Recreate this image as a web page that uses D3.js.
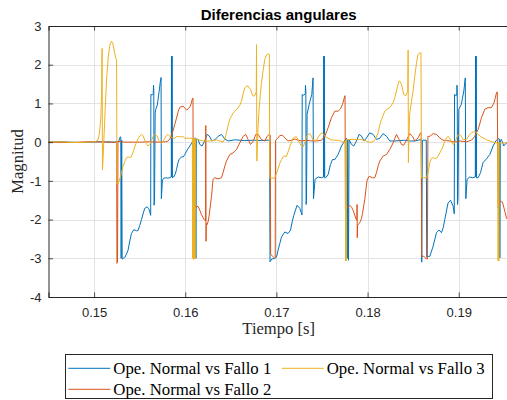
<!DOCTYPE html>
<html>
<head>
<meta charset="utf-8">
<script src="https://cdn.jsdelivr.net/npm/d3@7"></script>
<style>
  html, body { margin: 0; padding: 0; background: #ffffff; }
  svg { display: block; }
</style>
</head>
<body>
<svg id="chart" width="507" height="400"></svg>
<script>
// Labels and ticks
const titleText = "Diferencias angulares";
const xLabelText = "Tiempo [s]";
const yLabelText = "Magnitud";
const xTickValues = [0.15, 0.16, 0.17, 0.18, 0.19];
const xTickLabels = ["0.15", "0.16", "0.17", "0.18", "0.19"];
const yTickValues = [-4, -3, -2, -1, 0, 1, 2, 3];
const yTickLabels = ["-4", "-3", "-2", "-1", "0", "1", "2", "3"];
const xLimits = [0.145, 0.1955];
const yLimits = [-4, 3];

// Series names (plot order: Fallo 1, Fallo 2, Fallo 3)
const seriesNames = ["Ope. Normal vs Fallo 1", "Ope. Normal vs Fallo 2", "Ope. Normal vs Fallo 3"];

// Ope. Normal vs Fallo 1 : [time (s), difference]
const fallo1 = [[0.14492,0],[0.14624,0.01],[0.14843,-0.01],[0.15063,0.01],[0.15227,0],[0.15271,0.02],[0.15287,0.14],[0.15293,0.13],[0.15297,-3.0],[0.15303,0.05],[0.15308,-3.02],[0.15320,-3.0],[0.15337,-2.98],[0.15353,-2.9],[0.15373,-2.79],[0.15392,-2.55],[0.15410,-2.36],[0.15436,-2.26],[0.15465,-2.29],[0.15483,-2.28],[0.15501,-2.15],[0.15520,-2.0],[0.15540,-1.83],[0.15556,-1.71],[0.15581,-1.67],[0.15600,-1.72],[0.15611,-1.8],[0.15621,-1.89],[0.15623,1.23],[0.15641,1.22],[0.15649,1.25],[0.15652,1.47],[0.15655,1.35],[0.15658,-1.63],[0.15663,-1.5],[0.15670,0.75],[0.15677,0.85],[0.15693,0.95],[0.15713,1.3],[0.15726,1.55],[0.15735,1.67],[0.15738,-1.46],[0.15750,-0.98],[0.15765,-0.93],[0.15787,-0.92],[0.15808,-0.93],[0.15830,-0.92],[0.15847,-0.9],[0.15849,2.22],[0.15852,-0.9],[0.15856,2.22],[0.15859,-0.92],[0.15874,-0.9],[0.15891,-0.82],[0.15904,-0.71],[0.15918,-0.55],[0.15932,-0.45],[0.15959,-0.38],[0.15979,-0.38],[0.15995,-0.32],[0.16022,-0.2],[0.16050,-0.1],[0.16086,0.03],[0.16105,0.11],[0.16113,0.1],[0.16117,-3.0],[0.16121,0.08],[0.16141,0.07],[0.16160,-0.06],[0.16185,-0.1],[0.16214,0.03],[0.16240,0.2],[0.16264,0.16],[0.16294,0.03],[0.16324,0.06],[0.16360,0.15],[0.16398,0.2],[0.16434,0.08],[0.16470,0.03],[0.16544,0.06],[0.16653,0.04],[0.16763,0.05],[0.16840,0.04],[0.16909,0.05],[0.16925,0.05],[0.16930,-3.09],[0.16949,-3.02],[0.16982,-3.0],[0.17001,-2.97],[0.17019,-2.79],[0.17037,-2.62],[0.17056,-2.45],[0.17092,-2.32],[0.17128,-2.36],[0.17155,-2.27],[0.17174,-2.05],[0.17191,-1.89],[0.17227,-1.63],[0.17257,-1.71],[0.17281,-1.88],[0.17283,1.23],[0.17300,1.21],[0.17317,1.25],[0.17319,1.47],[0.17323,1.3],[0.17326,-1.61],[0.17330,-1.5],[0.17337,0.72],[0.17359,0.97],[0.17388,1.23],[0.17402,1.66],[0.17407,-1.46],[0.17424,-0.96],[0.17457,-0.9],[0.17495,-0.92],[0.17517,-0.9],[0.17520,2.22],[0.17523,-0.9],[0.17526,2.22],[0.17530,-0.92],[0.17542,-0.92],[0.17567,-0.84],[0.17593,-0.58],[0.17615,-0.45],[0.17641,-0.45],[0.17677,-0.32],[0.17714,-0.1],[0.17739,0.0],[0.17767,0.1],[0.17772,0.08],[0.17777,-3.0],[0.17782,0.05],[0.17791,-3.05],[0.17797,0.07],[0.17824,-0.06],[0.17849,-0.1],[0.17879,0.03],[0.17907,0.2],[0.17933,0.16],[0.17962,0.03],[0.17988,0.11],[0.18024,0.24],[0.18061,0.2],[0.18098,0.07],[0.18134,0.1],[0.18170,0.22],[0.18208,0.15],[0.18244,0.03],[0.18299,0.03],[0.18354,0.04],[0.18408,0.05],[0.18463,0.03],[0.18518,0.03],[0.18573,0.06],[0.18589,0.06],[0.18594,-3.1],[0.18601,0.05],[0.18644,0.05],[0.18649,-2.97],[0.18661,-2.95],[0.18683,-2.95],[0.18719,-2.69],[0.18756,-2.34],[0.18785,-2.27],[0.18811,-2.34],[0.18831,-2.2],[0.18847,-2.0],[0.18883,-1.57],[0.18910,-1.5],[0.18938,-1.65],[0.18951,-1.85],[0.18954,1.23],[0.18973,1.2],[0.18979,1.25],[0.18981,1.47],[0.18984,1.3],[0.18987,-1.61],[0.18992,-1.45],[0.19001,0.85],[0.19028,0.97],[0.19056,1.32],[0.19072,1.66],[0.19078,-1.46],[0.19092,-0.96],[0.19121,-0.9],[0.19154,-0.92],[0.19182,-0.9],[0.19185,2.22],[0.19188,-0.9],[0.19192,2.22],[0.19195,-0.92],[0.19213,-0.92],[0.19239,-0.79],[0.19267,-0.53],[0.19305,-0.43],[0.19341,-0.32],[0.19377,-0.1],[0.19407,0.03],[0.19432,0.09],[0.19446,0.08],[0.19451,-2.99],[0.19456,0.05],[0.19469,0.07],[0.19494,-0.1],[0.19524,-0.02],[0.19560,0.05]];

// Ope. Normal vs Fallo 2 : [time (s), difference]
const fallo2 = [[0.14492,0],[0.14733,-0.01],[0.14953,0.01],[0.15172,0],[0.15247,0],[0.15251,-3.13],[0.15257,-3.1],[0.15262,0.02],[0.15337,0],[0.15501,0],[0.15611,0.01],[0.15721,0],[0.15787,0.01],[0.15812,0.03],[0.15836,0.1],[0.15867,0.3],[0.15904,0.62],[0.15924,0.8],[0.15940,0.9],[0.15976,0.93],[0.15995,0.88],[0.16014,0.83],[0.16033,0.86],[0.16050,0.91],[0.16066,1.0],[0.16079,1.13],[0.16085,1.14],[0.16088,-1.9],[0.16097,-1.75],[0.16123,-1.67],[0.16141,-1.66],[0.16160,-1.76],[0.16178,-1.87],[0.16196,-1.95],[0.16214,-2.02],[0.16223,-2.03],[0.16225,0.43],[0.16228,-2.56],[0.16231,-2.1],[0.16240,-2.13],[0.16251,-2.05],[0.16262,-1.91],[0.16275,-1.65],[0.16288,-1.4],[0.16305,-0.96],[0.16324,-0.92],[0.16360,-0.95],[0.16398,-0.92],[0.16415,-0.79],[0.16434,-0.62],[0.16452,-0.49],[0.16489,-0.32],[0.16525,-0.28],[0.16562,-0.19],[0.16598,-0.02],[0.16635,0.15],[0.16664,0.2],[0.16689,0.07],[0.16716,-0.06],[0.16744,0.02],[0.16774,0.2],[0.16799,0.2],[0.16836,0.07],[0.16873,0.03],[0.16898,0.15],[0.16920,0.2],[0.16933,0.18],[0.16937,-2.9],[0.16960,-2.95],[0.16982,-3.0],[0.16987,-2.98],[0.16990,0.05],[0.17015,0.1],[0.17037,0.17],[0.17067,0.18],[0.17092,0.11],[0.17128,0.03],[0.17166,0.05],[0.17202,0.08],[0.17238,0.05],[0.17275,0.03],[0.17330,0.05],[0.17385,0.03],[0.17440,0.03],[0.17495,0.05],[0.17531,0.15],[0.17567,0.37],[0.17604,0.63],[0.17641,0.8],[0.17677,0.8],[0.17703,0.86],[0.17725,0.97],[0.17750,1.19],[0.17753,1.2],[0.17757,-1.75],[0.17769,-1.7],[0.17805,-1.63],[0.17824,-1.68],[0.17841,-1.76],[0.17871,-1.97],[0.17883,-2.02],[0.17885,-1.61],[0.17887,-2.47],[0.17891,-2.15],[0.17907,-2.1],[0.17922,-2.05],[0.17933,-1.97],[0.17944,-1.85],[0.17959,-1.63],[0.17970,-1.48],[0.17981,-1.24],[0.17995,-0.98],[0.18017,-0.88],[0.18054,-0.92],[0.18079,-0.92],[0.18098,-0.79],[0.18118,-0.6],[0.18134,-0.49],[0.18170,-0.36],[0.18208,-0.32],[0.18244,-0.19],[0.18280,-0.02],[0.18317,0.2],[0.18346,0.07],[0.18372,-0.06],[0.18397,-0.08],[0.18427,0.05],[0.18463,0.22],[0.18493,0.15],[0.18518,0.03],[0.18554,0.11],[0.18581,0.24],[0.18589,0.2],[0.18594,-2.95],[0.18617,-2.95],[0.18639,-3.0],[0.18656,-3.02],[0.18662,0.15],[0.18683,0.15],[0.18719,0.22],[0.18756,0.2],[0.18792,0.11],[0.18829,0.05],[0.18866,0.04],[0.18902,0.03],[0.18957,0],[0.19012,0.03],[0.19085,0.01],[0.19140,0.05],[0.19176,0.15],[0.19213,0.33],[0.19250,0.63],[0.19286,0.85],[0.19322,0.89],[0.19359,0.89],[0.19388,1.02],[0.19414,1.27],[0.19423,1.3],[0.19432,-1.7],[0.19451,-1.52],[0.19480,-1.55],[0.19505,-1.78],[0.19524,-1.96],[0.19549,-2.05]];

// Ope. Normal vs Fallo 3 : [time (s), difference]
const fallo3 = [[0.14492,0],[0.14624,0.01],[0.14788,-0.01],[0.14953,0],[0.15019,0.02],[0.15041,0.05],[0.15057,0.2],[0.15073,0.6],[0.15082,1.2],[0.15088,2.42],[0.15092,-0.72],[0.15099,-0.4],[0.15110,0.2],[0.15123,0.9],[0.15139,1.7],[0.15156,2.2],[0.15172,2.5],[0.15191,2.61],[0.15205,2.55],[0.15222,2.35],[0.15238,2.17],[0.15247,2.12],[0.15251,-1.08],[0.15265,-1.07],[0.15282,-0.95],[0.15301,-0.8],[0.15318,-0.62],[0.15337,-0.5],[0.15355,-0.4],[0.15375,-0.38],[0.15392,-0.4],[0.15408,-0.38],[0.15428,-0.25],[0.15447,-0.12],[0.15465,0],[0.15483,0.09],[0.15501,0.16],[0.15520,0.2],[0.15534,0.18],[0.15551,0.08],[0.15573,-0.04],[0.15592,-0.1],[0.15611,-0.06],[0.15630,0.04],[0.15649,0.15],[0.15666,0.2],[0.15688,0.17],[0.15710,0.05],[0.15739,-0.03],[0.15765,0.05],[0.15792,0.17],[0.15812,0.2],[0.15830,0.16],[0.15858,0.11],[0.15885,0.1],[0.15904,0.14],[0.15929,0.15],[0.15951,0.13],[0.15976,0.15],[0.15995,0.1],[0.16028,0.1],[0.16050,0.1],[0.16078,0.1],[0.16082,-3.0],[0.16086,0.1],[0.16090,-3.03],[0.16095,0.1],[0.16099,-3.0],[0.16104,0.1],[0.16108,-3.02],[0.16112,0.08],[0.16123,0.07],[0.16160,0.05],[0.16196,0.03],[0.16233,0.03],[0.16269,0.03],[0.16305,0.04],[0.16343,0.06],[0.16379,0.03],[0.16415,0],[0.16434,0.08],[0.16452,0.24],[0.16472,0.45],[0.16489,0.6],[0.16507,0.67],[0.16525,0.75],[0.16544,0.8],[0.16580,0.89],[0.16598,0.95],[0.16617,1.06],[0.16635,1.25],[0.16653,1.4],[0.16672,1.45],[0.16689,1.45],[0.16716,1.36],[0.16730,1.26],[0.16744,1.19],[0.16763,1.2],[0.16779,1.3],[0.16782,2.52],[0.16785,-0.49],[0.16790,-0.2],[0.16799,0.4],[0.16810,0.85],[0.16823,1.2],[0.16836,1.53],[0.16854,1.85],[0.16873,2.14],[0.16891,2.25],[0.16909,2.28],[0.16923,2.27],[0.16927,-0.92],[0.16949,-0.93],[0.16982,-0.93],[0.17010,-0.75],[0.17037,-0.55],[0.17056,-0.45],[0.17073,-0.38],[0.17092,-0.36],[0.17111,-0.37],[0.17128,-0.25],[0.17147,-0.12],[0.17166,0],[0.17183,0.1],[0.17202,0.13],[0.17220,0.14],[0.17238,0.06],[0.17257,-0.03],[0.17275,-0.1],[0.17293,-0.12],[0.17311,-0.02],[0.17330,0.14],[0.17348,0.2],[0.17366,0.22],[0.17385,0.15],[0.17402,0.05],[0.17440,0.05],[0.17465,0.15],[0.17495,0.24],[0.17512,0.22],[0.17531,0.15],[0.17567,0.1],[0.17604,0.06],[0.17641,0.05],[0.17677,0.05],[0.17714,0.02],[0.17732,0],[0.17757,0],[0.17759,-3.07],[0.17763,0.05],[0.17767,-3.07],[0.17771,0.07],[0.17797,0.07],[0.17860,0.07],[0.17915,0.07],[0.17970,0.05],[0.18006,0],[0.18046,0],[0.18079,0.05],[0.18116,0.24],[0.18134,0.45],[0.18153,0.59],[0.18189,0.8],[0.18222,0.86],[0.18244,0.89],[0.18280,1.02],[0.18299,1.15],[0.18317,1.32],[0.18335,1.5],[0.18346,1.58],[0.18359,1.56],[0.18372,1.49],[0.18386,1.35],[0.18397,1.23],[0.18419,1.2],[0.18441,1.3],[0.18445,2.38],[0.18448,-0.53],[0.18454,0.2],[0.18463,0.76],[0.18482,1.05],[0.18499,1.32],[0.18518,1.7],[0.18537,2.05],[0.18554,2.27],[0.18573,2.3],[0.18586,2.31],[0.18592,-0.92],[0.18617,-0.92],[0.18646,-0.92],[0.18664,-0.79],[0.18683,-0.53],[0.18699,-0.42],[0.18719,-0.4],[0.18737,-0.42],[0.18756,-0.42],[0.18774,-0.36],[0.18792,-0.28],[0.18811,-0.2],[0.18829,-0.1],[0.18847,0.02],[0.18866,0.11],[0.18883,0.15],[0.18902,0.1],[0.18921,0],[0.18938,-0.06],[0.18957,-0.02],[0.18976,0.11],[0.18993,0.18],[0.19012,0.2],[0.19030,0.15],[0.19048,0.07],[0.19085,0.07],[0.19121,0.2],[0.19140,0.24],[0.19176,0.28],[0.19213,0.2],[0.19250,0.13],[0.19267,0.11],[0.19305,0.06],[0.19341,0.03],[0.19377,0],[0.19414,-0.02],[0.19429,-0.02],[0.19432,-3.07],[0.19436,0],[0.19440,-3.07],[0.19444,-0.02],[0.19472,-0.02],[0.19524,-0.02],[0.19560,-0.02]];

const seriesData = [fallo1, fallo2, fallo3];
const seriesColors = ["#0072BD", "#D95319", "#EDB120"];

// Layout
const W = 507, H = 400;
const plot = { left: 48.5, top: 26, right: 48.5 + 0.0505 * 9116, bottom: 297 };
const axisColor = "#262626";
const gridColor = "#e3e3e3";
const sansFont = "'Liberation Sans', Arial, Helvetica, sans-serif";
const serifFont = "'Liberation Serif', 'Times New Roman', serif";

const svg = d3.select("#chart");
svg.append("rect").attr("width", W).attr("height", H).attr("fill", "#ffffff");

const x = d3.scaleLinear().domain(xLimits).range([plot.left, plot.right]);
const y = d3.scaleLinear().domain(yLimits).range([plot.bottom, plot.top]);

// Grid
const grid = svg.append("g");
grid.selectAll("line.gx").data(xTickValues).enter().append("line")
  .attr("x1", d => Math.round(x(d)) + 0.5).attr("x2", d => Math.round(x(d)) + 0.5)
  .attr("y1", plot.top).attr("y2", plot.bottom)
  .attr("stroke", gridColor).attr("stroke-width", 1);
grid.selectAll("line.gy").data(yTickValues).enter().append("line")
  .attr("x1", plot.left).attr("x2", plot.right)
  .attr("y1", d => Math.round(y(d)) + 0.5).attr("y2", d => Math.round(y(d)) + 0.5)
  .attr("stroke", gridColor).attr("stroke-width", 1);

// Lines
svg.append("defs").append("clipPath").attr("id", "plotClip")
  .append("rect").attr("x", plot.left).attr("y", plot.top)
  .attr("width", plot.right - plot.left).attr("height", plot.bottom - plot.top);

const line = d3.line().x(d => x(d[0])).y(d => y(d[1]));
const linesG = svg.append("g").attr("clip-path", "url(#plotClip)");
seriesData.forEach((s, i) => {
  linesG.append("path").datum(s)
    .attr("d", line)
    .attr("fill", "none")
    .attr("stroke", seriesColors[i])
    .attr("stroke-width", 1)
    .attr("stroke-linejoin", "round");
});

// Axes (ticks point inward)
const xAxis = d3.axisBottom(x).tickValues(xTickValues)
  .tickFormat((d, i) => xTickLabels[i]).tickSize(-4.6).tickPadding(11);
const gx = svg.append("g").attr("transform", `translate(0,${plot.bottom})`).call(xAxis);
const xAxisTop = d3.axisTop(x).tickValues(xTickValues).tickFormat("").tickSize(-4.6);
const gxt = svg.append("g").attr("transform", `translate(0,${plot.top})`).call(xAxisTop);

const yAxis = d3.axisLeft(y).tickValues(yTickValues)
  .tickFormat((d, i) => yTickLabels[i]).tickSize(-4.6).tickPadding(7);
const gy = svg.append("g").attr("transform", `translate(${plot.left},0)`).call(yAxis);

[gx, gxt, gy].forEach(g => {
  g.select(".domain").attr("stroke", axisColor).attr("stroke-width", 1);
  g.selectAll(".tick line").attr("stroke", axisColor).attr("stroke-width", 0.8);
  g.selectAll(".tick text").attr("fill", axisColor)
    .style("font-family", sansFont).style("font-size", "13px");
});

// Title and axis labels
svg.append("text")
  .attr("x", (plot.left + plot.right) / 2).attr("y", 19.5)
  .attr("text-anchor", "middle")
  .style("font-family", sansFont).style("font-size", "15px").style("font-weight", "bold")
  .attr("fill", "#000")
  .text(titleText);

svg.append("text")
  .attr("x", (plot.left + plot.right) / 2).attr("y", 334)
  .attr("text-anchor", "middle")
  .style("font-family", serifFont).style("font-size", "16.6px")
  .attr("fill", axisColor)
  .text(xLabelText);

svg.append("text")
  .attr("transform", `translate(23,${(plot.top + plot.bottom) / 2}) rotate(-90)`)
  .attr("text-anchor", "middle")
  .style("font-family", serifFont).style("font-size", "16.6px")
  .attr("fill", axisColor)
  .text(yLabelText);

// Legend: two columns, filled column by column
const legend = svg.append("g");
legend.append("rect")
  .attr("x", 65.5).attr("y", 354.5).attr("width", 427).attr("height", 44)
  .attr("fill", "#ffffff").attr("stroke", axisColor).attr("stroke-width", 1);
const legendItems = [
  { idx: 0, col: 0, row: 0 },
  { idx: 1, col: 0, row: 1 },
  { idx: 2, col: 1, row: 0 }
];
const colX = [68.3, 281.7];
const rowY = [368.3, 389.3];
legendItems.forEach(it => {
  const lx = colX[it.col], ly = rowY[it.row];
  legend.append("line")
    .attr("x1", lx).attr("x2", lx + 42).attr("y1", ly).attr("y2", ly)
    .attr("stroke", seriesColors[it.idx]).attr("stroke-width", 1);
  legend.append("text")
    .attr("x", lx + 45).attr("y", ly + 5.6)
    .style("font-family", serifFont).style("font-size", "16.8px")
    .attr("fill", "#000")
    .text(seriesNames[it.idx]);
});
</script>
</body>
</html>
